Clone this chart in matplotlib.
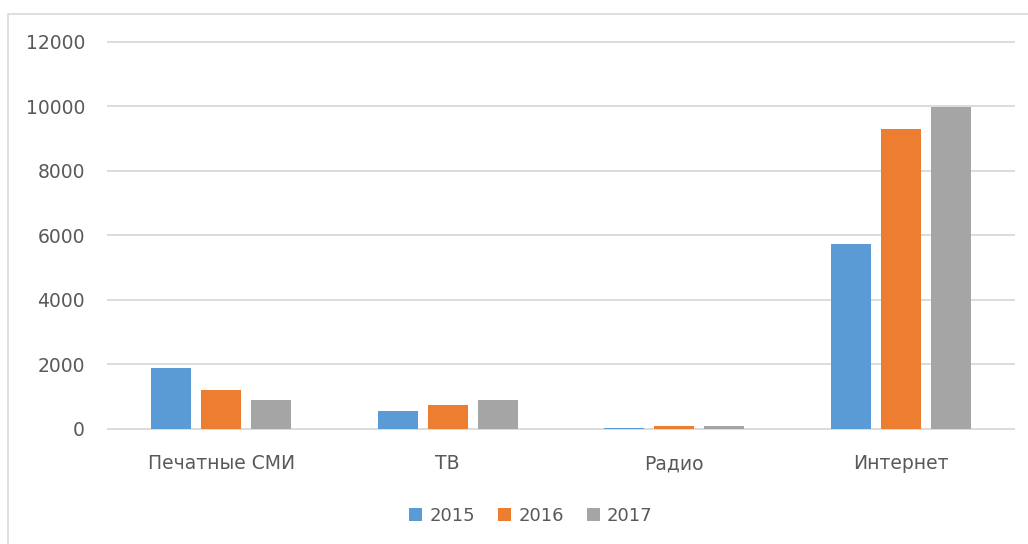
import matplotlib
matplotlib.use("Agg")
import matplotlib.pyplot as plt
from matplotlib.patches import Rectangle
import numpy as np

categories = ["Печатные СМИ", "ТВ", "Радио", "Интернет"]
years = ["2015", "2016", "2017"]
v2015 = [1880, 550, 25, 5720]
v2016 = [1200, 750, 95, 9300]
v2017 = [890, 900, 85, 9980]
series = [v2015, v2016, v2017]
colors = ["#5B9BD5", "#ED7D31", "#A5A5A5"]
yticks = [0, 2000, 4000, 6000, 8000, 10000, 12000]

W, H = 1028, 544
fig = plt.figure(figsize=(W / 100, H / 100), dpi=100)
plt.rcParams["font.family"] = ["DejaVu Sans"]

# outer frame
fig.patches.append(Rectangle((8 / W, -0.1), 1.2, 1 - 14 / H + 0.1, transform=fig.transFigure,
                             fill=False, edgecolor="#D9D9D9", linewidth=1.2))

ax = fig.add_axes([108 / W, 1 - 429 / H, (1014 - 108) / W, (429 - 41.7) / H])
x = np.arange(len(categories))
offsets = [-0.221, 0.0, 0.221]
width = 0.175
for vals, off, c, lab in zip(series, offsets, colors, years):
    ax.bar(x + off, vals, width=width, color=c, label=lab, zorder=3)

ax.set_xlim(-0.5, len(categories) - 0.5)
ax.set_ylim(0, 12000)
ax.set_yticks(yticks)
ax.set_yticklabels([str(t) for t in yticks])
ax.set_xticks(x)
ax.set_xticklabels(categories)
ax.grid(axis="y", color="#D9D9D9", linewidth=1.3, zorder=0)
for gl in ax.get_ygridlines():
    gl.set_clip_on(False)
for s in ax.spines.values():
    s.set_visible(False)
ax.tick_params(axis="both", length=0, colors="#595959", labelsize=13.5)
ax.tick_params(axis="y", pad=16.5)
ax.tick_params(axis="x", pad=18)

leg = fig.legend(loc="center", bbox_to_anchor=(531 / W, 1 - 516 / H), ncol=3, frameon=False,
                 fontsize=13, handlelength=0.7, handleheight=0.7, handletextpad=0.4,
                 columnspacing=1.3)
for t in leg.get_texts():
    t.set_color("#595959")

fig.savefig("out.png", dpi=100)
